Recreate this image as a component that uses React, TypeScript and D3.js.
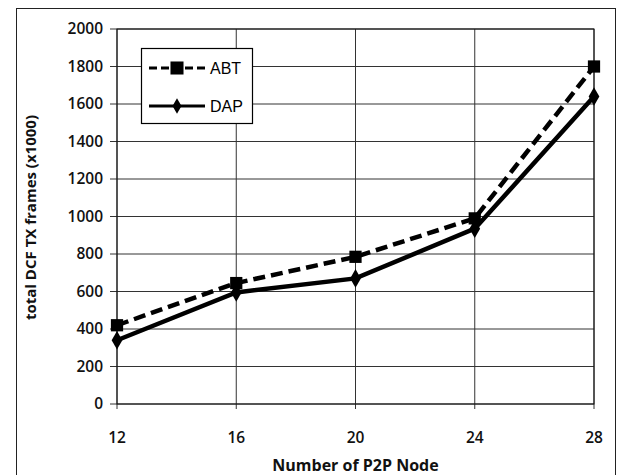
import { line, scaleLinear, scalePoint, symbol, symbolDiamond, symbolSquare } from 'd3';

const nodes = [12, 16, 20, 24, 28];
const abtValues = [420, 645, 785, 990, 1800];
const dapValues = [340, 595, 670, 935, 1640];
const yTicks = [0, 200, 400, 600, 800, 1000, 1200, 1400, 1600, 1800, 2000];

const W = 619;
const H = 475;
const plot = { left: 117, right: 594, top: 29, bottom: 404 };
const tickFont = '"Open Sans", sans-serif';

export default function App() {
  const x = scalePoint<number>().domain(nodes).range([plot.left, plot.right]);
  const y = scaleLinear().domain([0, 2000]).range([plot.bottom, plot.top]);

  const lineGen = line<number>()
    .x((_, i) => x(nodes[i]) as number)
    .y((d) => y(d));

  const square = symbol().type(symbolSquare).size(150)();
  const diamond = symbol().type(symbolDiamond).size(100)();
  const legendSquare = symbol().type(symbolSquare).size(170)();
  const legendDiamond = symbol().type(symbolDiamond).size(70)();

  return (
    <svg
      width={W}
      height={H}
      style={{ position: 'absolute', left: 0, top: 0, background: '#fff' }}
    >
      {/* outer chart frame */}
      <rect x={16.5} y={8.5} width={599} height={475} fill="none" stroke="#222" strokeWidth={1} />

      {/* horizontal gridlines + left ticks */}
      {yTicks.map((t) => (
        <g key={'y' + t}>
          <line x1={plot.left - 7} x2={plot.right} y1={y(t)} y2={y(t)} stroke="#333" strokeWidth={1} />
          <text
            x={plot.left - 14}
            y={y(t)}
            dy="0.35em"
            textAnchor="end"
            fontFamily={tickFont}
            fontWeight={600}
            fontSize={15.5}
            fill="#111"
          >
            {t}
          </text>
        </g>
      ))}

      {/* vertical gridlines + bottom ticks */}
      {nodes.map((n) => (
        <g key={'x' + n}>
          <line x1={x(n)} x2={x(n)} y1={plot.top} y2={plot.bottom + 5} stroke="#333" strokeWidth={1} />
          <text
            x={x(n)}
            y={plot.bottom + 34}
            dy="0.35em"
            textAnchor="middle"
            fontFamily={tickFont}
            fontWeight={600}
            fontSize={15.5}
            fill="#111"
          >
            {n}
          </text>
        </g>
      ))}

      {/* plot border */}
      <rect
        x={plot.left}
        y={plot.top}
        width={plot.right - plot.left}
        height={plot.bottom - plot.top}
        fill="none"
        stroke="#111"
        strokeWidth={1}
      />

      {/* series */}
      <path d={lineGen(abtValues) ?? ''} fill="none" stroke="#000" strokeWidth={4.5} strokeDasharray="12 6" />
      <path d={lineGen(dapValues) ?? ''} fill="none" stroke="#000" strokeWidth={4.5} />
      {abtValues.map((v, i) => (
        <path key={'a' + i} d={square ?? ''} transform={`translate(${x(nodes[i])},${y(v)})`} fill="#000" />
      ))}
      {dapValues.map((v, i) => (
        <path key={'d' + i} d={diamond ?? ''} transform={`translate(${x(nodes[i])},${y(v)})`} fill="#000" />
      ))}

      {/* legend */}
      <g>
        <rect x={141.5} y={48.5} width={111} height={75} fill="#fff" stroke="#000" strokeWidth={1.2} />
        <line x1={149} x2={205} y1={68} y2={68} stroke="#000" strokeWidth={3} strokeDasharray="8 4" />
        <path d={legendSquare ?? ''} transform="translate(177,68)" fill="#000" />
        <text x={210} y={68} dy="0.36em" fontFamily='"Liberation Sans", Arial, sans-serif' fontSize={16} fill="#000">
          ABT
        </text>
        <line x1={149} x2={205} y1={106} y2={106} stroke="#000" strokeWidth={3} />
        <path d={legendDiamond ?? ''} transform="translate(177,106)" fill="#000" />
        <text x={210} y={106} dy="0.36em" fontFamily='"Liberation Sans", Arial, sans-serif' fontSize={16} fill="#000">
          DAP
        </text>
      </g>

      {/* axis titles */}
      <text
        transform={`translate(31,${(plot.top + plot.bottom) / 2 + 1}) rotate(-90)`}
        textAnchor="middle"
        dy="0.35em"
        fontFamily={tickFont}
        fontWeight={700}
        fontSize={15}
        fill="#111"
      >
        total DCF TX frames (x1000)
      </text>
      <text
        x={(plot.left + plot.right) / 2}
        y={465}
        dy="0.35em"
        textAnchor="middle"
        fontFamily={tickFont}
        fontWeight={700}
        fontSize={16}
        fill="#111"
      >
        Number of P2P Node
      </text>
    </svg>
  );
}
